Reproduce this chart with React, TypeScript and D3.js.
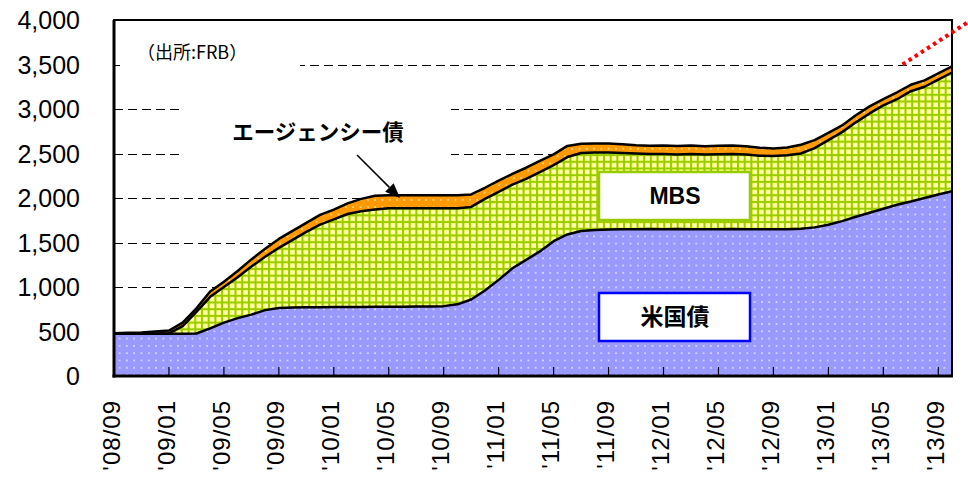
import React, { useEffect, useRef } from 'react';
import * as d3 from 'd3';

// monthly points, 2008/09 .. 2013/10 (billion USD)
const treasuries = [
  475, 475, 475, 475, 475, 475, 478, 536, 600, 650,
  690, 740, 765, 770, 772, 772, 775, 776, 776, 778,
  779, 779, 780, 782, 785, 805, 860, 960, 1080, 1210,
  1305, 1400, 1515, 1590, 1630, 1640, 1645, 1648, 1650, 1652,
  1650, 1652, 1650, 1648, 1650, 1652, 1650, 1648, 1650, 1650,
  1655, 1670, 1700, 1740, 1790, 1835, 1880, 1925, 1960, 2000,
  2040, 2075,
];
const mbs = [
  0, 0, 0, 0, 5, 85, 242, 354, 400, 460,
  540, 600, 675, 760, 848, 928, 985, 1044, 1074, 1092,
  1105, 1106, 1105, 1103, 1100, 1080, 1040, 1030, 990, 940,
  910, 890, 855, 870, 875, 870, 865, 857, 850, 843,
  845, 838, 845, 842, 842, 843, 840, 827, 822, 830,
  845, 890, 950, 1000, 1060, 1115, 1160, 1185, 1240, 1250,
  1290, 1335,
];
const agency = [
  5, 10, 15, 25, 30, 40, 40, 60, 60, 70,
  80, 90, 100, 100, 100, 110, 110, 120, 140, 155,
  146, 145, 145, 145, 145, 145, 140, 125, 125, 120,
  125, 128, 120, 125, 105, 102, 102, 98, 92, 92,
  95, 94, 96, 92, 96, 95, 92, 90, 85, 88,
  98, 90, 82, 75, 80, 80, 72, 78, 72, 72,
  70, 70,
];
const tickLabels = [
  "'08/09", "'09/01", "'09/05", "'09/09", "'10/01", "'10/05", "'10/09", "'11/01",
  "'11/05", "'11/09", "'12/01", "'12/05", "'12/09", "'13/01", "'13/05", "'13/09",
];
const monthsPerTick = 4;
const yTicks = [0, 500, 1000, 1500, 2000, 2500, 3000, 3500, 4000];
// red dotted projection line (month index, value)
const projection = [
  { m: 57.4, v: 3500 },
  { m: 62.2, v: 3980 },
];

const FONT = '"Liberation Sans", Arial, sans-serif';
const JP = '"Noto Sans CJK JP", sans-serif';

export default function App() {
  const svgRef = useRef<SVGSVGElement>(null);

  useEffect(() => {
    if (!svgRef.current) return;
    const svg = d3.select(svgRef.current);
    svg.selectAll('*').remove();

    const left = 114, right = 952, top = 20, bottom = 376;
    const x = d3.scaleLinear().domain([0, treasuries.length - 1]).range([left, right]);
    const y = d3.scaleLinear().domain([0, 4000]).range([bottom, top]);

    const rows = treasuries.map((t, i) => ({ i, treasuries: t, mbs: mbs[i], agency: agency[i] }));
    const series = d3.stack<any>().keys(['treasuries', 'mbs', 'agency'])(rows);

    // patterns
    const defs = svg.append('defs');
    const dots = (id: string, bg: string, dot: string) => {
      const p = defs.append('pattern').attr('id', id).attr('patternUnits', 'userSpaceOnUse')
        .attr('width', 7.3).attr('height', 7.3);
      p.append('rect').attr('width', 7.3).attr('height', 7.3).attr('fill', bg);
      p.append('rect').attr('x', 2).attr('y', 2).attr('width', 1.6).attr('height', 1.6).attr('fill', dot);
    };
    dots('pBlue', '#9999FF', '#E6E6FF');
    dots('pOrange', '#FF9900', '#FFE6B0');
    const g = defs.append('pattern').attr('id', 'pGrid').attr('patternUnits', 'userSpaceOnUse')
      .attr('width', 6.7).attr('height', 6.7);
    g.append('rect').attr('width', 6.7).attr('height', 6.7).attr('fill', '#99CC00');
    g.append('rect').attr('x', 2).attr('y', 2).attr('width', 4.7).attr('height', 4.7).attr('fill', '#FFFF80');
    g.append('rect').attr('x', 3).attr('y', 3).attr('width', 2.7).attr('height', 2.7).attr('fill', '#FFFFC0');

    svg.append('rect').attr('width', 968).attr('height', 478).attr('fill', '#fff');

    // gridlines
    svg.append('g').selectAll('line')
      .data(yTicks.filter(v => v > 0 && v < 4000))
      .enter().append('line')
      .attr('x1', left).attr('x2', right)
      .attr('y1', d => Math.round(y(d)) + 0.5).attr('y2', d => Math.round(y(d)) + 0.5)
      .attr('stroke', '#000').attr('stroke-width', 1).attr('stroke-dasharray', '9 5');

    // areas
    const fills = ['url(#pBlue)', 'url(#pGrid)', 'url(#pOrange)'];
    const area = d3.area<any>()
      .x(d => x(d.data.i)).y0(d => y(d[0])).y1(d => y(d[1]));
    const line = d3.line<any>().x(d => x(d.data.i)).y(d => y(d[1]));
    svg.append('g').selectAll('path').data(series).enter().append('path')
      .attr('d', d => area(d) as string)
      .attr('fill', (_, i) => fills[i]);
    svg.append('g').selectAll('path').data(series).enter().append('path')
      .attr('d', d => line(d) as string)
      .attr('fill', 'none').attr('stroke', '#000').attr('stroke-width', 2.5)
      .attr('stroke-linejoin', 'round');

    // white label boxes covering gridlines
    svg.append('rect').attr('x', 120).attr('y', 34).attr('width', 180).attr('height', 40).attr('fill', '#fff');
    svg.append('rect').attr('x', 184).attr('y', 80).attr('width', 267).attr('height', 90).attr('fill', '#fff');

    // x ticks (inside)
    const tickIdx = tickLabels.map((_, i) => i * monthsPerTick);
    svg.append('g').selectAll('line').data(tickIdx.slice(1)).enter().append('line')
      .attr('x1', d => x(d)).attr('x2', d => x(d))
      .attr('y1', bottom - 9).attr('y2', bottom)
      .attr('stroke', '#000').attr('stroke-width', 1.2);

    // frame
    svg.append('rect').attr('x', left).attr('y', top).attr('width', right - left).attr('height', bottom - top)
      .attr('fill', 'none').attr('stroke', '#000').attr('stroke-width', 2);
    svg.append('line').attr('x1', left).attr('x2', left).attr('y1', top).attr('y2', bottom + 1.5)
      .attr('stroke', '#000').attr('stroke-width', 3);
    svg.append('line').attr('x1', left - 1.5).attr('x2', right + 1).attr('y1', bottom).attr('y2', bottom)
      .attr('stroke', '#000').attr('stroke-width', 3);

    // y labels
    svg.append('g').selectAll('text').data(yTicks).enter().append('text')
      .attr('x', 80).attr('y', d => y(d)).attr('dy', '0.36em')
      .attr('text-anchor', 'end').attr('font-family', FONT).attr('font-size', 25)
      .text(d => d3.format(',')(d));

    // x labels
    svg.append('g').selectAll('text').data(tickLabels).enter().append('text')
      .attr('transform', (_, i) => `translate(${x(tickIdx[i]) - 3},400) rotate(-90)`)
      .attr('dy', '0.36em').attr('text-anchor', 'end')
      .attr('font-family', FONT).attr('font-size', 24).attr('letter-spacing', 1)
      .text(d => d);

    // source note
    svg.append('text').attr('x', 137).attr('y', 59)
      .attr('font-family', JP).attr('font-size', 18).text('（出所:FRB）');

    // agency label + arrow
    svg.append('text').attr('x', 318).attr('y', 132).attr('dy', '0.36em')
      .attr('text-anchor', 'middle').attr('font-family', JP).attr('font-weight', 'bold')
      .attr('font-size', 21.5).text('エージェンシー債');
    const ax1 = 357, ay1 = 155, ax2 = 400, ay2 = 198;
    const ang = Math.atan2(ay2 - ay1, ax2 - ax1);
    const hl = 15, hw = 6;
    const bx = ax2 - hl * Math.cos(ang), by = ay2 - hl * Math.sin(ang);
    svg.append('line').attr('x1', ax1).attr('y1', ay1).attr('x2', bx).attr('y2', by)
      .attr('stroke', '#000').attr('stroke-width', 1.6);
    svg.append('path')
      .attr('d', `M${ax2},${ay2}L${bx + hw * Math.sin(ang)},${by - hw * Math.cos(ang)}L${bx - hw * Math.sin(ang)},${by + hw * Math.cos(ang)}Z`)
      .attr('fill', '#000');

    // MBS / 米国債 boxes
    const box = (bx0: number, by0: number, stroke: string, label: string) => {
      svg.append('rect').attr('x', bx0).attr('y', by0).attr('width', 151).attr('height', 48)
        .attr('fill', '#fff').attr('stroke', stroke).attr('stroke-width', 2.5);
      svg.append('text').attr('x', bx0 + 76).attr('y', by0 + 24).attr('dy', '0.36em')
        .attr('text-anchor', 'middle').attr('font-family', label === 'MBS' ? FONT : JP)
        .attr('font-weight', 'bold').attr('font-size', 23).text(label);
    };
    box(599, 172, '#99CC00', 'MBS');
    box(599, 293, '#0000FF', '米国債');

    // projection dotted line
    svg.append('line')
      .attr('x1', x(projection[0].m)).attr('y1', y(projection[0].v))
      .attr('x2', x(projection[1].m)).attr('y2', y(projection[1].v))
      .attr('stroke', '#FF0000').attr('stroke-width', 4).attr('stroke-dasharray', '3.5 3.8');
  }, []);

  return (
    <div style={{ position: 'absolute', left: 0, top: 0 }}>
      <svg ref={svgRef} width={968} height={478} style={{ display: 'block' }} />
    </div>
  );
}
